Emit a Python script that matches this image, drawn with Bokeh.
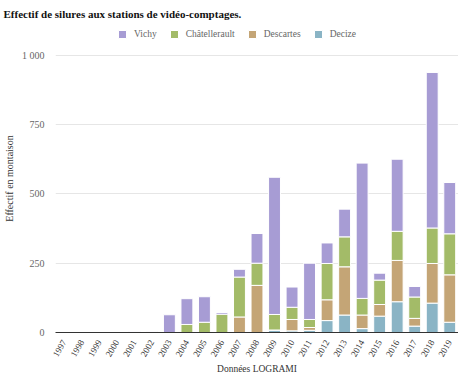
from math import pi
from bokeh.plotting import figure
from bokeh.models import Legend, LegendItem, FixedTicker, ColumnDataSource, Range1d
from bokeh.embed import file_html
from bokeh.resources import INLINE

years = [str(y) for y in range(1997, 2020)]
decize =      [0, 0, 0, 0, 0, 0, 0, 0, 0, 0, 0, 0, 9, 6, 8, 43, 63, 14, 59, 111, 23, 106, 37]
descartes =   [0, 0, 0, 0, 0, 0, 0, 0, 0, 0, 56, 170, 0, 41, 10, 75, 174, 49, 42, 149, 28, 143, 171]
chatellerault=[0, 0, 0, 0, 0, 0, 0, 29, 37, 66, 144, 80, 56, 44, 29, 131, 108, 60, 88, 105, 77, 128, 148]
vichy =       [0, 0, 0, 0, 3, 3, 64, 93, 92, 6, 28, 107, 495, 73, 203, 74, 100, 488, 25, 260, 38, 561, 185]

series = ["Decize", "Descartes", "Châtellerault", "Vichy"]
colors = ["#8ab4c5", "#c4a576", "#a3bb68", "#a79cd4"]

source = ColumnDataSource(dict(year=years, Decize=decize, Descartes=descartes,
                               **{"Châtellerault": chatellerault}, Vichy=vichy))

FONT = "Liberation Serif"

p = figure(x_range=years, y_range=Range1d(0, 1111), width=458, height=377,
           output_backend="svg", toolbar_location=None,
           title="Effectif de silures aux stations de vidéo-comptages.")
p.min_border_left = 5
p.min_border_right = 0
p.min_border_top = 0
p.min_border_bottom = 0
p.outline_line_color = None

p.title.text_font = FONT
p.title.text_font_size = "11px"
p.title.text_font_style = "bold"
p.title.text_color = "#111111"
p.title.offset = -52

renderers = p.vbar_stack(series, x="year", width=0.68, color=colors, source=source,
                         line_color="white", line_width=1)

items = [LegendItem(label=s, renderers=[r]) for s, r in zip(series, renderers)]
items = items[::-1]
legend = Legend(items=items, orientation="horizontal", location=(62, 293))
legend.label_text_font = FONT
legend.label_text_font_size = "9.5px"
legend.label_text_color = "#666666"
legend.border_line_color = None
legend.background_fill_alpha = 0
legend.glyph_width = 10
legend.glyph_height = 10
legend.spacing = 12
legend.label_standoff = 7
legend.padding = 2
legend.margin = 0
p.add_layout(legend, "center")

# y axis
p.yaxis.ticker = FixedTicker(ticks=[0, 250, 500, 750, 1000])
p.yaxis.major_label_overrides = {1000: "1 000"}
p.yaxis.axis_line_color = None
p.yaxis.major_tick_line_color = None
p.yaxis.minor_tick_line_color = None
p.yaxis.major_label_text_font = FONT
p.yaxis.major_label_text_font_size = "10px"
p.yaxis.major_label_text_color = "#666666"
p.yaxis.axis_label = "Effectif en montaison"
p.yaxis.axis_label_text_font = FONT
p.yaxis.axis_label_text_font_size = "10px"
p.yaxis.axis_label_text_font_style = "normal"
p.yaxis.axis_label_text_color = "#333333"
p.yaxis.axis_label_standoff = 4

# x axis
p.xaxis.major_label_orientation = pi / 3
p.xaxis.major_label_standoff = 2
p.xaxis.major_label_text_font = FONT
p.xaxis.major_label_text_font_size = "9px"
p.xaxis.major_label_text_color = "#333333"
p.xaxis.axis_line_color = "#333333"
p.xaxis.axis_line_width = 1
p.xaxis.major_tick_line_color = None
p.xaxis.minor_tick_line_color = None
p.xaxis.axis_label = "Données LOGRAMI"
p.xaxis.axis_label_text_font = FONT
p.xaxis.axis_label_text_font_size = "9.5px"
p.xaxis.axis_label_text_font_style = "normal"
p.xaxis.axis_label_text_color = "#333333"
p.xaxis.axis_label_standoff = 2

p.xgrid.grid_line_color = None
p.ygrid.grid_line_color = "#e6e6e6"

open("out.html", "w").write(file_html(p, INLINE))
